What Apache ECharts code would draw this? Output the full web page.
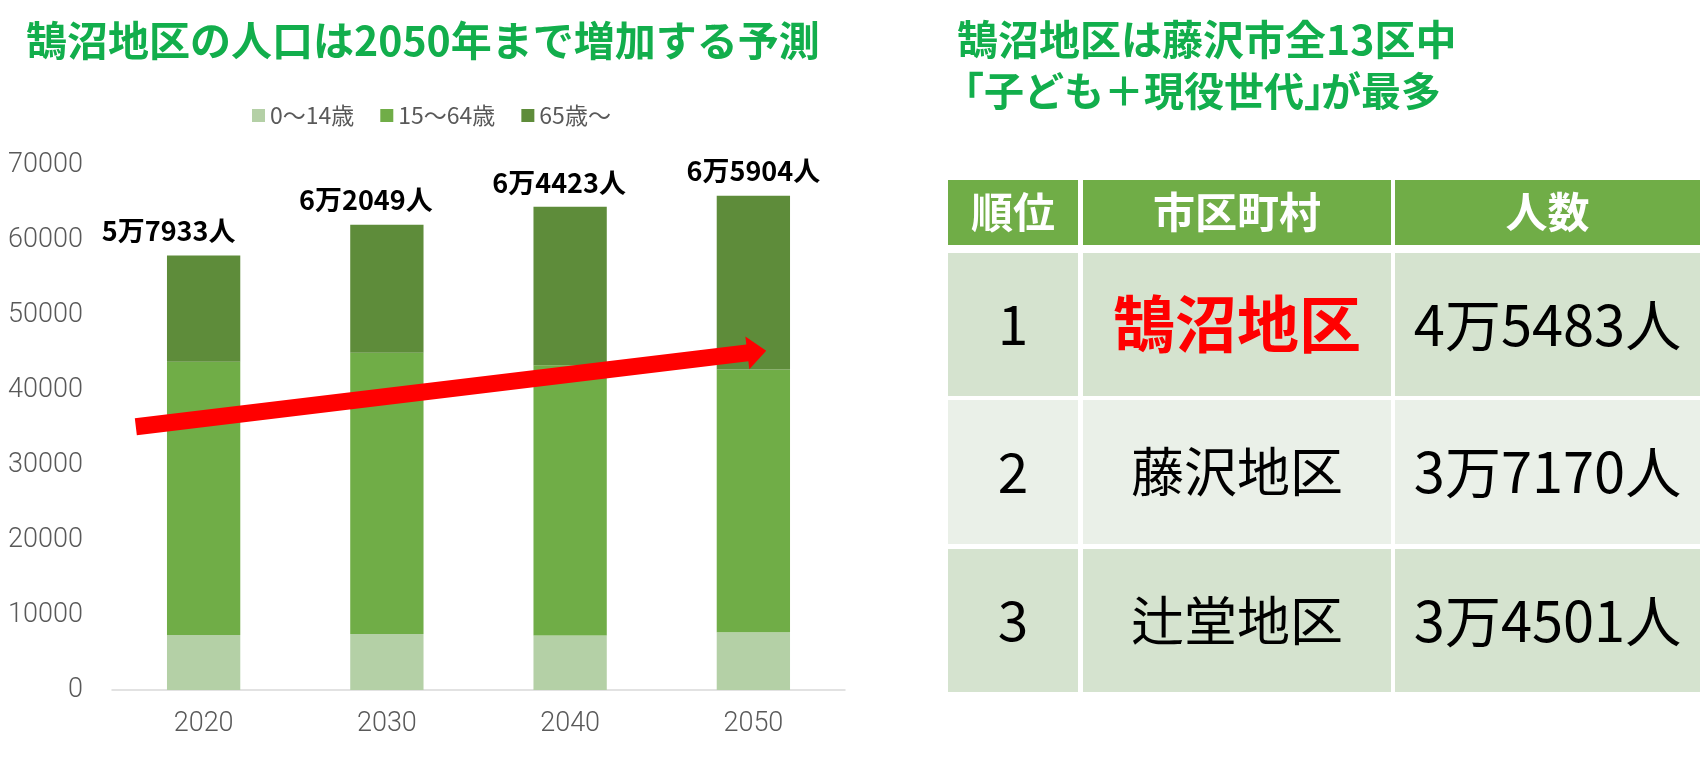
<!DOCTYPE html>
<html><head><meta charset="utf-8">
<script src="https://cdn.jsdelivr.net/npm/echarts@6/dist/echarts.min.js"></script>
<style>html,body{margin:0;padding:0;background:#fff}#main{width:1705px;height:760px}</style>
</head><body><div id="main"></div>
<script>
// ---- data ----
const years = ['2020', '2030', '2040', '2050'];
const seriesNames = ['0〜14歳', '15〜64歳', '65歳〜'];
const age0to14 = [7350, 7480, 7280, 7710];
const age15to64 = [36430, 37500, 36010, 35040];
const age65plus = [14153, 17069, 21133, 23154];
const totals = [57933, 62049, 64423, 65904];
const yMin = 0, yMax = 70000, yInterval = 10000;
const trendArrow = [[-0.37, 35100], [3.07, 45250]];
const tableHeaders = ['順位', '市区町村', '人数'];
const ranks = [1, 2, 3];
const districts = ['鵠沼地区', '藤沢地区', '辻堂地区'];
const districtPopulations = [45483, 37170, 34501];
const leftTitle = '鵠沼地区の人口は2050年まで増加する予測';
const rightTitle1 = '鵠沼地区は藤沢市全13区中';
const rightTitle2a = '「子ども＋現役世代」';
const rightTitle2b = 'が最多';

// ---- layout / style ----
const JP = '"Noto Sans CJK JP", "Noto Sans", sans-serif';
const GREEN = '#12ae4c';
const labelOffsets = [[-35, 0], [-21, 0], [-11, 0], [0, 0]];
const colSpans = [[0, 130], [135, 443], [447, 752]];
const rowSpans = [[0, 65], [73, 216], [220, 364], [369, 512]];

function man(v) {
  return Math.floor(v / 10000) + '万' + String(v % 10000).padStart(4, '0') + '人';
}

const cells = [];
for (let r = 0; r < 4; r++) for (let c = 0; c < 3; c++) cells.push([c, r]);

function cellText(c, r) {
  if (r === 0) return tableHeaders[c];
  if (c === 0) return String(ranks[r - 1]);
  if (c === 1) return districts[r - 1];
  return man(districtPopulations[r - 1]);
}

const chart = echarts.init(document.getElementById('main'), null, {renderer: 'canvas'});
const axisFont = {fontFamily: 'Roboto', fontWeight: 300, fontSize: 27, color: '#595959'};
const titleStyle = {fontSize: 41, lineHeight: 41, fontWeight: 'bold', color: GREEN, fontFamily: JP};
const title2Style = {fontSize: 40, lineHeight: 40, fontWeight: 'bold', color: GREEN, fontFamily: JP};

chart.setOption({
  animation: false,
  backgroundColor: '#ffffff',
  title: [
    {text: leftTitle, left: 26, top: 20, padding: 0, textStyle: titleStyle},
    {text: rightTitle1, left: 957, top: 19, padding: 0, textStyle: titleStyle},
    {text: rightTitle2a, left: 944, top: 71, padding: 0, textStyle: title2Style},
    {text: rightTitle2b, left: 1321, top: 71, padding: 0, textStyle: title2Style}
  ],
  legend: {
    data: seriesNames, left: 252, top: 104, padding: 0,
    icon: 'rect', itemWidth: 13, itemHeight: 13, itemGap: 26,
    textStyle: {fontSize: 23, color: '#595959', fontFamily: JP},
    selectedMode: false
  },
  grid: [
    {left: 112, width: 733, top: 165, bottom: 70, outerBoundsMode: 'none', containLabel: false},
    {left: 948, width: 752, top: 180, height: 512, outerBoundsMode: 'none', containLabel: false}
  ],
  xAxis: [
    {type: 'category', gridIndex: 0, data: years,
     axisLine: {show: true, lineStyle: {color: '#d9d9d9', width: 1.5}},
     axisTick: {show: false}, splitLine: {show: false},
     axisLabel: Object.assign({margin: 21}, axisFont)},
    {type: 'value', gridIndex: 0, min: -0.5, max: 3.5, show: false},
    {type: 'value', gridIndex: 1, min: 0, max: 752, show: false}
  ],
  yAxis: [
    {type: 'value', gridIndex: 0, min: yMin, max: yMax, interval: yInterval,
     axisLine: {show: false}, axisTick: {show: false}, splitLine: {show: false},
     axisLabel: Object.assign({margin: 29, formatter: v => String(v)}, axisFont)},
    {type: 'value', gridIndex: 1, min: 0, max: 512, inverse: true, show: false}
  ],
  series: [
    {name: seriesNames[0], type: 'bar', stack: 'pop', data: age0to14,
     barCategoryGap: '60%', itemStyle: {color: '#b4d0a6'}, emphasis: {disabled: true}},
    {name: seriesNames[1], type: 'bar', stack: 'pop', data: age15to64,
     barCategoryGap: '60%', itemStyle: {color: '#70ad47'}, emphasis: {disabled: true}},
    {name: seriesNames[2], type: 'bar', stack: 'pop',
     data: age65plus.map((v, i) => ({value: v, label: {offset: labelOffsets[i]}})),
     barCategoryGap: '60%', itemStyle: {color: '#5e8c3a'}, emphasis: {disabled: true},
     label: {show: true, position: 'top', distance: 11,
       formatter: p => man(totals[p.dataIndex]),
       fontSize: 27, fontWeight: 'bold', color: '#000', fontFamily: JP}},
    {type: 'custom', xAxisIndex: 1, yAxisIndex: 0, z: 10, silent: true,
     encode: {x: [0, 2], y: [1, 3]},
     data: [[trendArrow[0][0], trendArrow[0][1], trendArrow[1][0], trendArrow[1][1]]],
     renderItem: function (params, api) {
       const p0 = api.coord([api.value(0), api.value(1)]);
       const p1 = api.coord([api.value(2), api.value(3)]);
       const dx = p1[0] - p0[0], dy = p1[1] - p0[1], L = Math.hypot(dx, dy);
       const ux = dx / L, uy = dy / L, nx = -uy, ny = ux;
       const sw = 8.5, hw = 16.5, hl = 19;
       const b = [p1[0] - ux * hl, p1[1] - uy * hl];
       const pts = [
         [p0[0] + nx * sw, p0[1] + ny * sw], [b[0] + nx * sw, b[1] + ny * sw],
         [b[0] + nx * hw, b[1] + ny * hw], p1,
         [b[0] - nx * hw, b[1] - ny * hw], [b[0] - nx * sw, b[1] - ny * sw],
         [p0[0] - nx * sw, p0[1] - ny * sw]
       ];
       return {type: 'polygon', shape: {points: pts}, style: {fill: '#ff0000'}};
     }},
    {type: 'custom', xAxisIndex: 2, yAxisIndex: 1, silent: true,
     encode: {x: 0, y: 1},
     data: cells,
     renderItem: function (params, api) {
       const c = api.value(0), r = api.value(1);
       const tl = api.coord([colSpans[c][0], rowSpans[r][0]]);
       const br = api.coord([colSpans[c][1], rowSpans[r][1]]);
       const fill = r === 0 ? '#70ad47' : (r === 2 ? '#eaf0e8' : '#d5e3cf');
       let size = 55, weight = 'normal', color = '#000';
       if (r === 0) { size = 42; weight = 'bold'; color = '#ffffff'; }
       else if (c === 1 && r === 1) { size = 62; weight = 'bold'; color = '#ff0000'; }
       else if (c === 1) { size = 53; }
       else if (c === 2) { size = 56; }
       return {type: 'group', children: [
         {type: 'rect', shape: {x: tl[0], y: tl[1], width: br[0] - tl[0], height: br[1] - tl[1]},
          style: {fill: fill}},
         {type: 'text', style: {x: (tl[0] + br[0]) / 2, y: (tl[1] + br[1]) / 2,
           text: cellText(c, r), fill: color, fontSize: size, fontWeight: weight,
           fontFamily: JP, align: 'center', verticalAlign: 'middle'}}
       ]};
     }}
  ]
});
</script></body></html>
